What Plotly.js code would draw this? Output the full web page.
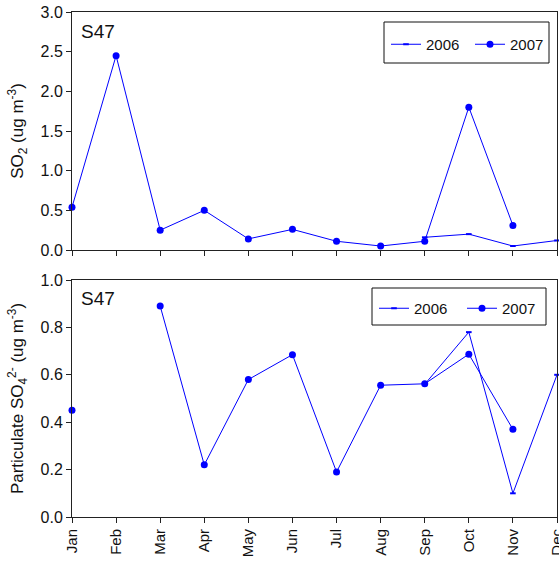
<!DOCTYPE html>
<html>
<head>
<meta charset="utf-8">
<script src="https://cdn.plot.ly/plotly-3.0.1.min.js"></script>
<style>html,body{margin:0;padding:0;background:#fff;}#chart{width:559px;height:561px;}</style>
</head>
<body>
<div id="chart"></div>
<script>
var months = ["Jan","Feb","Mar","Apr","May","Jun","Jul","Aug","Sep","Oct","Nov","Dec"];
var so2_2006 = [null,null,null,null,null,null,null,null,0.16,0.20,0.05,0.12];
var so2_2007 = [0.54,2.45,0.25,0.50,0.14,0.26,0.11,0.05,0.11,1.80,0.31,null];
var so4_2006 = [null,null,null,null,null,null,null,null,0.56,0.78,0.10,0.60];
var so4_2007 = [0.45,null,0.89,0.22,0.58,0.685,0.19,0.556,0.562,0.687,0.37,null];
var idx = months.map(function(m,i){return i;});

var W = 559, H = 561, ML = 72, MR = 2, MT = 12, MB = 44;
var PW = W - ML - MR, PH = H - MT - MB;
function px(x){ return (x - ML) / PW; }
function py(y){ return (H - MB - y) / PH; }

var blue = "#0000FF";
var font = "Liberation Sans, Arial, sans-serif";
function s2006(y, xa, ya, lg){
  return {x: idx, y: y, xaxis: xa, yaxis: ya, name: "2006", legend: lg, mode: "lines+markers",
    line: {color: blue, width: 1}, marker: {symbol: "line-ew", size: 4, line: {color: blue, width: 2}, color: blue},
    connectgaps: false, cliponaxis: false};
}
function s2007(y, xa, ya, lg){
  return {x: idx, y: y, xaxis: xa, yaxis: ya, name: "2007", legend: lg, mode: "lines+markers",
    line: {color: blue, width: 1}, marker: {symbol: "circle", size: 7, color: blue},
    connectgaps: false, cliponaxis: false};
}
var data = [
  s2006(so2_2006, "x", "y", "legend"),
  s2007(so2_2007, "x", "y", "legend"),
  s2006(so4_2006, "x2", "y2", "legend2"),
  s2007(so4_2007, "x2", "y2", "legend2")
];
var axcommon = {showline: true, mirror: true, linecolor: "#222", linewidth: 1, showgrid: false, zeroline: false, automargin: false,
  ticks: "outside", ticklen: 5, tickcolor: "#222", ticklabeloverflow: "allow", tickfont: {family: font, size: 15, color: "#111"}};
var layout = {
  width: W, height: H,
  margin: {l: ML, r: MR, t: MT, b: MB, autoexpand: false},
  paper_bgcolor: "#fff", plot_bgcolor: "#fff",
  font: {family: font, color: "#111"},
  xaxis: Object.assign({}, axcommon, {domain: [0, 1], range: [0, 11], tickvals: idx, ticktext: months, showticklabels: false, anchor: "y"}),
  yaxis: Object.assign({}, axcommon, {domain: [py(250), py(12)], range: [0, 3], dtick: 0.5, tickformat: ".1f", anchor: "x",
    tickfont: {family: font, size: 16, color: "#111"},
    title: {text: "SO<sub>2</sub> (ug m<sup>-3</sup>)", font: {family: font, size: 17, color: "#111"}, standoff: 12}}),
  xaxis2: Object.assign({}, axcommon, {domain: [0, 1], range: [0, 11], tickvals: idx, ticktext: months, tickangle: -90, anchor: "y2"}),
  yaxis2: Object.assign({}, axcommon, {domain: [py(517), py(280)], range: [0, 1], dtick: 0.2, tickformat: ".1f", anchor: "x2",
    tickfont: {family: font, size: 16, color: "#111"},
    title: {text: "Particulate SO<sub>4</sub><sup>2-</sup> (ug m<sup>-3</sup>)", font: {family: font, size: 17, color: "#111"}, standoff: 12}}),
  legend: {x: px(386), y: py(28), xanchor: "left", yanchor: "top", orientation: "h", borderwidth: 0,
    bgcolor: "rgba(0,0,0,0)", font: {family: font, size: 15, color: "#111"}, itemwidth: 30, entrywidth: 39},
  legend2: {x: px(374), y: py(292), xanchor: "left", yanchor: "top", orientation: "h", borderwidth: 0,
    bgcolor: "rgba(0,0,0,0)", font: {family: font, size: 15, color: "#111"}, itemwidth: 30, entrywidth: 43},
  shapes: [
    {type: "rect", xref: "paper", yref: "paper", x0: px(384), x1: px(549), y0: py(63), y1: py(22), line: {color: "#111", width: 1}, fillcolor: "#fff", layer: "above"},
    {type: "rect", xref: "paper", yref: "paper", x0: px(372), x1: px(546), y0: py(325), y1: py(288), line: {color: "#111", width: 1}, fillcolor: "#fff", layer: "above"}
  ],
  annotations: [
    {text: "S47", xref: "paper", yref: "paper", x: px(79), y: py(19), xanchor: "left", yanchor: "top", showarrow: false, font: {family: font, size: 19, color: "#111"}},
    {text: "S47", xref: "paper", yref: "paper", x: px(79), y: py(286), xanchor: "left", yanchor: "top", showarrow: false, font: {family: font, size: 19, color: "#111"}}
  ],
  showlegend: true
};
Plotly.newPlot("chart", data, layout, {displayModeBar: false, staticPlot: true});
</script>
</body>
</html>
